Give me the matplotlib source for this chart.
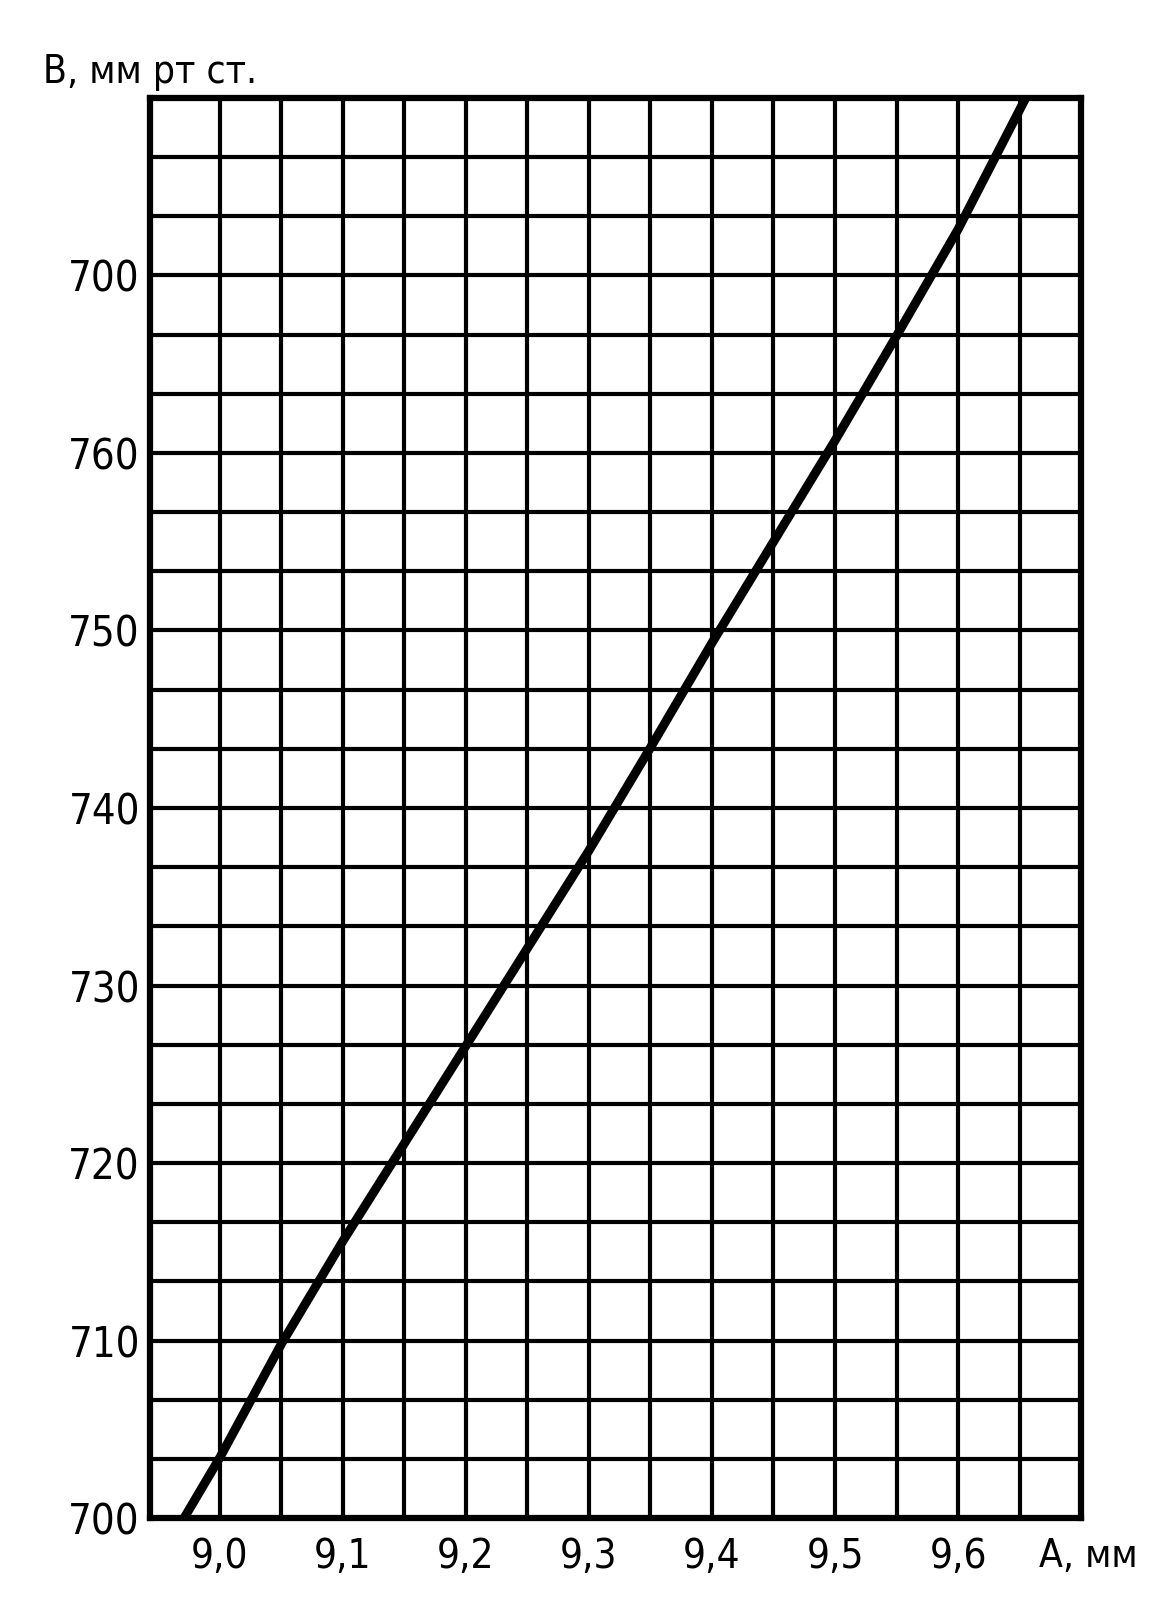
import numpy as np
import matplotlib
matplotlib.use("Agg")
import matplotlib.pyplot as plt

# values
a_mm = [8.971, 9.0, 9.05, 9.1, 9.15, 9.2, 9.3, 9.35, 9.4, 9.45, 9.5, 9.55, 9.6, 9.655]
b_mmhg = [700, 703.4, 709.8, 715.6, 721.1, 726.6, 737.6, 743.4, 749.3, 755.0, 760.7, 766.6, 772.6, 780]

x_ticks = [9.0, 9.1, 9.2, 9.3, 9.4, 9.5, 9.6]
x_labels = ["9,0", "9,1", "9,2", "9,3", "9,4", "9,5", "9,6"]
y_ticks = [700, 710, 720, 730, 740, 750, 760, 770]
y_labels = ["700", "710", "720", "730", "740", "750", "760", "700"]

plt.rcParams['font.family'] = ['DejaVu Sans']
plt.rcParams['font.stretch'] = 'condensed'

fig = plt.figure(figsize=(11.6, 16.11), dpi=100)
ax = fig.add_axes([0.129, 0.0577, 0.803, 0.8815])

ax.plot(a_mm, b_mmhg, color='black', linewidth=6.5, solid_capstyle='butt')

ax.set_xlim(8.943, 9.70)
ax.set_ylim(700, 780)

ax.set_xticks(x_ticks)
ax.set_xticklabels(x_labels)
ax.set_xticks(np.arange(9.0, 9.66, 0.05), minor=True)
ax.set_yticks(y_ticks)
ax.set_yticklabels(y_labels)
ax.set_yticks(np.linspace(700, 780, 25), minor=True)

ax.grid(which='both', color='black', linewidth=3)
ax.tick_params(which='both', length=0)
ax.tick_params(axis='y', pad=7, labelsize=30)
ax.tick_params(axis='x', pad=14, labelsize=29)
for t in ax.get_xticklabels() + ax.get_yticklabels():
    t.set_fontstretch('condensed')
for s in ax.spines.values():
    s.set_linewidth(4.5)

fig.text(0.037, 0.955, "В, мм рт ст.", fontsize=28, va='center', ha='left',
         fontstretch='condensed')
fig.text(0.896, 0.034, "А, мм", fontsize=28, va='center', ha='left',
         fontstretch='condensed')

fig.savefig("out.png", dpi=100)
